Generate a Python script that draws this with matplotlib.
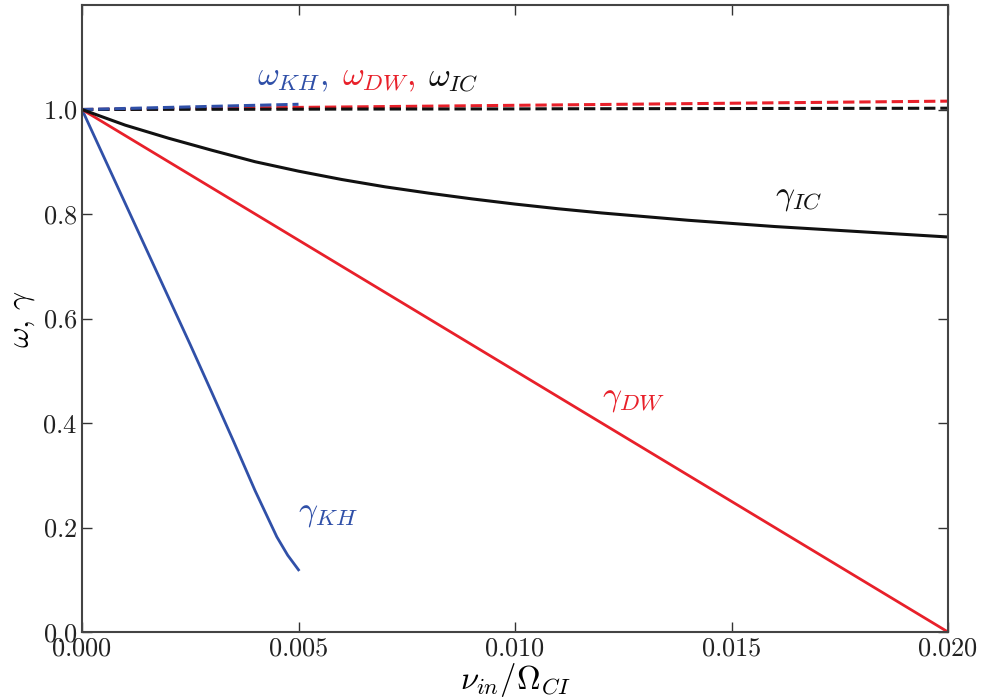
import matplotlib
matplotlib.use("Agg")
import matplotlib.pyplot as plt
import numpy as np
from matplotlib.ticker import FuncFormatter, MultipleLocator

plt.rcParams['mathtext.fontset'] = 'cm'
plt.rcParams['font.family'] = 'serif'
plt.rcParams['font.serif'] = ['cmr10', 'DejaVu Serif']
plt.rcParams['axes.formatter.use_mathtext'] = True

# data
x_kh = [0.0, 0.0005, 0.001, 0.0015, 0.002, 0.0025, 0.003, 0.0035, 0.004, 0.0045, 0.00475, 0.005]
gamma_kh = [1.0, 0.91, 0.82, 0.73, 0.64, 0.55, 0.458, 0.365, 0.27, 0.182, 0.147, 0.119]
omega_kh = [1.0, 1.001, 1.002, 1.003, 1.004, 1.005, 1.006, 1.007, 1.008, 1.009, 1.0095, 1.01]

x_full = [0.0, 0.001, 0.002, 0.003, 0.004, 0.005, 0.006, 0.007, 0.008, 0.009, 0.010,
          0.011, 0.012, 0.013, 0.014, 0.015, 0.016, 0.017, 0.018, 0.019, 0.020]
gamma_dw = [1.0, 0.95, 0.9, 0.85, 0.8, 0.75, 0.7, 0.65, 0.6, 0.55, 0.5,
            0.45, 0.4, 0.35, 0.3, 0.25, 0.2, 0.15, 0.1, 0.05, 0.0]
omega_dw = [1.0, 1.0008, 1.0016, 1.0024, 1.0032, 1.004, 1.0048, 1.0056, 1.0064, 1.0072, 1.008,
            1.0088, 1.0096, 1.0104, 1.0112, 1.012, 1.0128, 1.0136, 1.0144, 1.0152, 1.016]
gamma_ic = [1.0, 0.97, 0.945, 0.922, 0.90, 0.882, 0.866, 0.852, 0.84, 0.829, 0.819,
            0.81, 0.802, 0.795, 0.788, 0.782, 0.776, 0.771, 0.766, 0.761, 0.756]
omega_ic = [1.0, 1.0001, 1.0003, 1.0004, 1.0005, 1.0006, 1.0008, 1.0009, 1.001, 1.0011, 1.0012,
            1.0014, 1.0015, 1.0016, 1.0017, 1.0018, 1.002, 1.0021, 1.0022, 1.0023, 1.0025]

c_blue = '#3050a8'
c_red = '#e8202a'
c_black = '#111111'

fig = plt.figure(figsize=(9.81, 6.98), dpi=100)
ax = fig.add_axes([82/981, 1-632/698, (948-82)/981, (632-5)/698])

ax.plot(x_full, omega_dw, '--', color=c_red, lw=2.2)
ax.plot(x_full, omega_ic, '--', color=c_black, lw=2.2)
ax.plot(x_kh, omega_kh, '--', color=c_blue, lw=2.2)
ax.plot(x_kh, gamma_kh, '-', color=c_blue, lw=2.0)
ax.plot(x_full, gamma_dw, '-', color=c_red, lw=2.0)
ax.plot(x_full, gamma_ic, '-', color=c_black, lw=2.2)

ax.set_xlim(0, 0.02)
ax.set_ylim(0, 1.2)
ax.xaxis.set_major_locator(MultipleLocator(0.005))
ax.set_yticks([0.0, 0.2, 0.4, 0.6, 0.8, 1.0])
ax.xaxis.set_major_formatter(FuncFormatter(lambda v, p: r'$%.3f$' % v))
ax.yaxis.set_major_formatter(FuncFormatter(lambda v, p: r'$%.1f$' % v))
ax.tick_params(direction='in', top=True, right=True, labelsize=19, length=7, width=1, colors='#333333')
for lab in ax.get_xticklabels() + ax.get_yticklabels():
    lab.set_color('#222222')
for s in ax.spines.values():
    s.set_color('#444444')
    s.set_linewidth(1.5)

ax.set_xlabel(r'$\nu_{in}/\Omega_{CI}$', fontsize=23.5, labelpad=0)
ax.set_ylabel(r'$\omega,\,\gamma$', fontsize=23, labelpad=4)

fs = 24
ax.text(0.00405, 1.03, r'$\omega_{KH},$', color=c_blue, fontsize=fs, ha='left', va='bottom')
ax.text(0.0060, 1.03, r'$\omega_{DW},$', color=c_red, fontsize=fs, ha='left', va='bottom')
ax.text(0.0080, 1.03, r'$\omega_{IC}$', color=c_black, fontsize=fs, ha='left', va='bottom')
ax.text(0.0160, 0.83, r'$\gamma_{IC}$', color=c_black, fontsize=fs, ha='left', va='center')
ax.text(0.0120, 0.445, r'$\gamma_{DW}$', color=c_red, fontsize=fs, ha='left', va='center')
ax.text(0.0050, 0.225, r'$\gamma_{KH}$', color=c_blue, fontsize=fs, ha='left', va='center')

fig.savefig('out.png', dpi=100)
